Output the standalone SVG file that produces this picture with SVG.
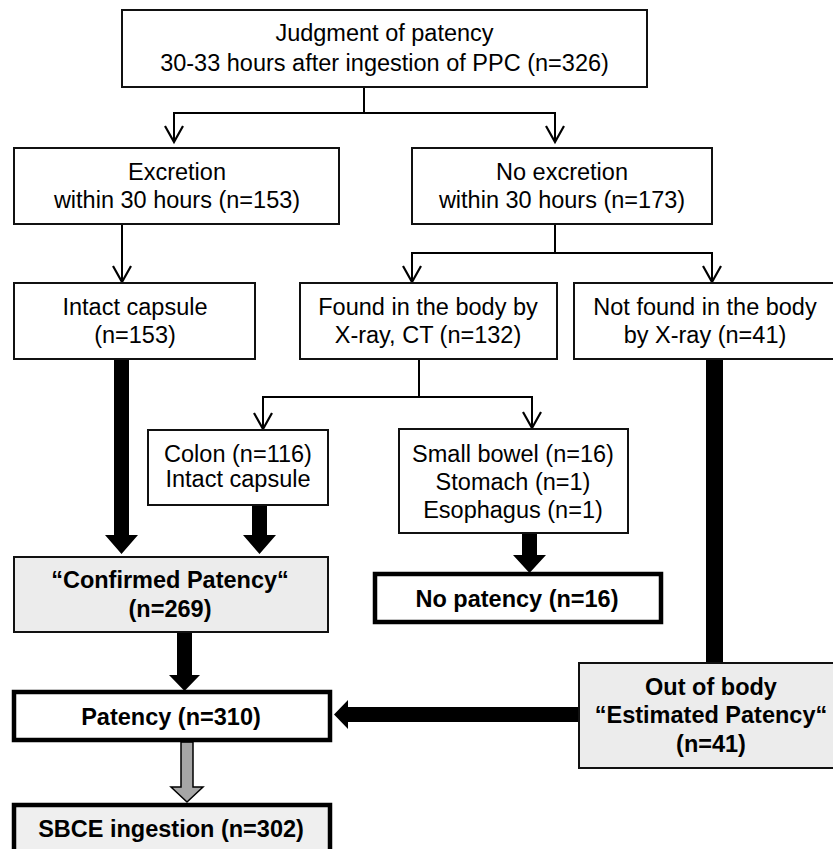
<svg xmlns="http://www.w3.org/2000/svg" width="833" height="849" viewBox="0 0 833 849">
<style>
.box{fill:#fff;stroke:#111;stroke-width:2}
.gbox{fill:#ececec;stroke:#111;stroke-width:2}
.tbox{fill:#fff;stroke:#000;stroke-width:4.5}
.tgbox{fill:#efefef;stroke:#000;stroke-width:4.5}
text{font-family:"Liberation Sans",Arial,sans-serif;font-size:23.5px;fill:#000;text-anchor:middle}
.b{font-weight:bold}
.ln{fill:none;stroke:#000;stroke-width:2}
.hd{fill:none;stroke:#000;stroke-width:2.2;stroke-linejoin:miter}
.fa{fill:#000;stroke:none}
.ga{fill:#a6a6a6;stroke:#000;stroke-width:1.5}
</style>
<rect width="833" height="849" fill="#fff"/>
<g id="connectors">
<path class="ln" d="M364 87V113M174 142V113H555V142"/>
<polyline class="hd" points="165,126 174,142 183,126"/>
<polyline class="hd" points="546,126 555,142 564,126"/>
<path class="ln" d="M122 224V282"/>
<polyline class="hd" points="113,266 122,282 131,266"/>
<path class="ln" d="M555 224V253M412 282V253H712V282"/>
<polyline class="hd" points="403,266 412,282 421,266"/>
<polyline class="hd" points="703,266 712,282 721,266"/>
<path class="ln" d="M419 359V397M263 429V397H532V428"/>
<polyline class="hd" points="254,413 263,429 272,413"/>
<polyline class="hd" points="523,412 532,428 541,412"/>
<polygon class="fa" points="114,359 129,359 129,535 138,535 121.5,554 105,535 114,535"/>
<polygon class="fa" points="252,505 267,505 267,535 276,535 259.5,554 243,535 252,535"/>
<polygon class="fa" points="522,533 537,533 537,555 546,555 529.5,573 513,555 522,555"/>
<polygon class="fa" points="177,632 192,632 192,675 200,675 184.5,691 169,675 177,675"/>
<rect class="fa" x="706" y="359" width="17" height="305"/>
<polygon class="fa" points="580,707 348,707 348,700 334,714.5 348,729 348,722 580,722"/>
<polygon class="ga" points="181,742 193,742 193,787 203,787 187,802 171,787 181,787"/>
</g>
<g id="n-top">
<rect class="box" x="122" y="10" width="525" height="77"/>
<text x="384.5" y="41">Judgment of patency</text>
<text x="384.5" y="71">30-33 hours after ingestion of PPC (n=326)</text>
</g>
<g id="n-excretion">
<rect class="box" x="14" y="148" width="325" height="76"/>
<text x="177" y="180">Excretion</text>
<text x="177" y="208">within 30 hours (n=153)</text>
</g>
<g id="n-noexcretion">
<rect class="box" x="412" y="148" width="300" height="76"/>
<text x="562" y="180">No excretion</text>
<text x="562" y="208">within 30 hours (n=173)</text>
</g>
<g id="n-intact">
<rect class="box" x="14" y="283" width="241" height="76"/>
<text x="135" y="315">Intact capsule</text>
<text x="135" y="343">(n=153)</text>
</g>
<g id="n-found">
<rect class="box" x="300" y="283" width="257" height="76"/>
<text x="428" y="315">Found in the body by</text>
<text x="428" y="343">X-ray, CT (n=132)</text>
</g>
<g id="n-notfound">
<rect class="box" x="574" y="283" width="270" height="76"/>
<text x="705" y="315">Not found in the body</text>
<text x="705" y="343">by X-ray (n=41)</text>
</g>
<g id="n-colon">
<rect class="box" x="148" y="430" width="180" height="75"/>
<text x="238" y="462">Colon (n=116)</text>
<text x="238" y="487">Intact capsule</text>
</g>
<g id="n-smallbowel">
<rect class="box" x="399" y="429" width="229" height="104"/>
<text x="513" y="462">Small bowel (n=16)</text>
<text x="513" y="490">Stomach (n=1)</text>
<text x="513" y="518">Esophagus (n=1)</text>
</g>
<g id="n-confirmed">
<rect class="gbox" x="14" y="557" width="314" height="75"/>
<text class="b" x="170" y="588">“Confirmed Patency“</text>
<text class="b" x="170" y="617">(n=269)</text>
</g>
<g id="n-nopatency">
<rect class="tbox" x="375" y="574" width="286" height="48"/>
<text class="b" x="517" y="607">No patency (n=16)</text>
</g>
<g id="n-patency">
<rect class="tbox" x="14" y="692" width="316" height="48"/>
<text class="b" x="171" y="725">Patency (n=310)</text>
</g>
<g id="n-outofbody">
<rect class="gbox" x="579" y="663" width="265" height="105"/>
<text class="b" x="711" y="695">Out of body</text>
<text class="b" x="711" y="723">“Estimated Patency“</text>
<text class="b" x="711" y="752">(n=41)</text>
</g>
<g id="n-sbce">
<rect class="tgbox" x="14" y="805" width="316" height="60"/>
<text class="b" x="171" y="837">SBCE ingestion (n=302)</text>
</g>
</svg>
